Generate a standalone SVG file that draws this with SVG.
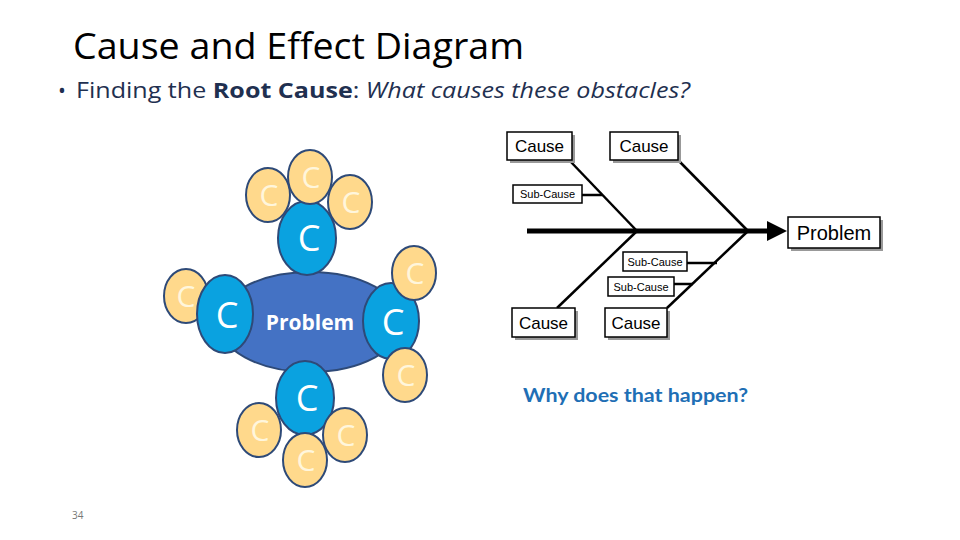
<svg xmlns="http://www.w3.org/2000/svg" width="960" height="540" viewBox="0 0 960 540">
<style>
.title{font-family:"Open Sans","Noto Sans",sans-serif;font-size:36px;fill:#000}
.sub{font-family:"Open Sans","Noto Sans",sans-serif;font-size:21px;fill:#1F3050}
.yel{fill:#FFD98C;stroke:#2E4A78;stroke-width:2}
.blu{fill:#0AA2E0;stroke:#2E4A78;stroke-width:2}
.prob{fill:#4472C4;stroke:#2E4A78;stroke-width:2}
.cy{font-family:"Open Sans","Noto Sans",sans-serif;font-size:30px;fill:#FFF6DC;text-anchor:middle}
.cb{font-family:"Open Sans","Noto Sans",sans-serif;font-size:36px;fill:#FFFFFF;text-anchor:middle}
.box{fill:#fff;stroke:#000;stroke-width:1.5}
.shadow{fill:#999}
.ft{font-family:"Liberation Sans",Arial,sans-serif;fill:#000;text-anchor:middle}
.bone{stroke:#000;stroke-width:2.5;fill:none}
</style>
<defs>
<marker id="ah" markerWidth="4" markerHeight="4" refX="1" refY="2" orient="auto" markerUnits="strokeWidth">
<path d="M0,0 L4,2 L0,4 Z" fill="#000"/>
</marker>
</defs>
<text class="title" x="73" y="59" textLength="451" lengthAdjust="spacingAndGlyphs">Cause and Effect Diagram</text>
<text class="sub" x="58" y="98">•</text>
<text class="sub" x="76" y="98" textLength="614" lengthAdjust="spacingAndGlyphs">Finding the <tspan font-weight="bold">Root Cause</tspan>: <tspan font-style="italic">What causes these obstacles?</tspan></text>

<g id="bubble-problem">
<ellipse class="prob" cx="310" cy="322" rx="92" ry="50"/>
<text x="310" y="330" font-family="Open Sans, Noto Sans, sans-serif" font-size="21" font-weight="bold" fill="#fff" text-anchor="middle">Problem</text>
</g>
<g id="c-left-yellow"><ellipse class="yel" cx="186" cy="296" rx="22" ry="27"/><text class="cy" x="186" y="307">C</text></g>
<g id="c-left"><ellipse class="blu" cx="225" cy="314" rx="28" ry="39"/><text class="cb" x="227" y="328">C</text></g>
<g id="c-top"><ellipse class="blu" cx="307" cy="238" rx="29" ry="37"/><text class="cb" x="309" y="251">C</text></g>
<g id="c-top-yl"><ellipse class="yel" cx="268" cy="195" rx="22" ry="27"/><text class="cy" x="269" y="206">C</text></g>
<g id="c-top-yr"><ellipse class="yel" cx="350" cy="202" rx="22" ry="27"/><text class="cy" x="351" y="213">C</text></g>
<g id="c-top-yc"><ellipse class="yel" cx="310" cy="177" rx="22" ry="27"/><text class="cy" x="311" y="188">C</text></g>
<g id="c-right"><ellipse class="blu" cx="391" cy="321" rx="28" ry="38"/><text class="cb" x="393" y="335">C</text></g>
<g id="c-right-yt"><ellipse class="yel" cx="414" cy="273" rx="22" ry="27"/><text class="cy" x="415" y="284">C</text></g>
<g id="c-right-yb"><ellipse class="yel" cx="405" cy="375" rx="22" ry="27"/><text class="cy" x="406" y="386">C</text></g>
<g id="c-bottom"><ellipse class="blu" cx="305" cy="398" rx="29" ry="37"/><text class="cb" x="307" y="411">C</text></g>
<g id="c-bot-yl"><ellipse class="yel" cx="259" cy="430" rx="22" ry="27"/><text class="cy" x="260" y="441">C</text></g>
<g id="c-bot-yr"><ellipse class="yel" cx="345" cy="435" rx="22" ry="27"/><text class="cy" x="346" y="446">C</text></g>
<g id="c-bot-yc"><ellipse class="yel" cx="305" cy="460" rx="22" ry="27"/><text class="cy" x="306" y="471">C</text></g>

<g id="connectors">
<line x1="527" y1="231" x2="772" y2="231" stroke="#000" stroke-width="5" marker-end="url(#ah)"/>
<line class="bone" x1="570" y1="161" x2="637" y2="231"/>
<line class="bone" x1="678" y1="160" x2="748" y2="231"/>
<line class="bone" x1="637" y1="231" x2="557" y2="308"/>
<line class="bone" x1="748" y1="231" x2="667" y2="308"/>
<line class="bone" x1="582" y1="195" x2="602" y2="195"/>
<line class="bone" x1="687" y1="263" x2="717" y2="263"/>
<line class="bone" x1="674" y1="284" x2="693" y2="284"/>
</g>

<g id="fb-cause-tl"><rect class="shadow" x="510" y="135" width="65" height="28"/><rect class="box" x="507" y="132" width="65" height="28"/><text class="ft" x="539.5" y="152" font-size="17">Cause</text></g>
<g id="fb-cause-tr"><rect class="shadow" x="613" y="135" width="68" height="28"/><rect class="box" x="610" y="132" width="68" height="28"/><text class="ft" x="644" y="152" font-size="17">Cause</text></g>
<g id="fb-sub-1"><rect class="box" x="513" y="185" width="69" height="18"/><text class="ft" x="547.5" y="198" font-size="11">Sub-Cause</text></g>
<g id="fb-problem"><rect class="shadow" x="791" y="220" width="92" height="31"/><rect class="box" x="788" y="217" width="92" height="31"/><text class="ft" x="834" y="240" font-size="20">Problem</text></g>
<g id="fb-sub-2"><rect class="box" x="623" y="252" width="64" height="19"/><text class="ft" x="655" y="266" font-size="11">Sub-Cause</text></g>
<g id="fb-sub-3"><rect class="box" x="608" y="277" width="66" height="19"/><text class="ft" x="641" y="291" font-size="11">Sub-Cause</text></g>
<g id="fb-cause-bl"><rect class="shadow" x="515" y="311" width="63" height="29"/><rect class="box" x="512" y="308" width="63" height="29"/><text class="ft" x="543.5" y="329" font-size="17">Cause</text></g>
<g id="fb-cause-br"><rect class="shadow" x="608" y="311" width="62" height="29"/><rect class="box" x="605" y="308" width="62" height="29"/><text class="ft" x="636" y="329" font-size="17">Cause</text></g>

<text x="523" y="402" font-family="Lato, sans-serif" font-weight="bold" font-size="19" fill="#1F6FB5" textLength="225" lengthAdjust="spacingAndGlyphs">Why does that happen?</text>
<text x="72" y="519" font-family="Open Sans, sans-serif" font-size="10" fill="#777">34</text>
</svg>
